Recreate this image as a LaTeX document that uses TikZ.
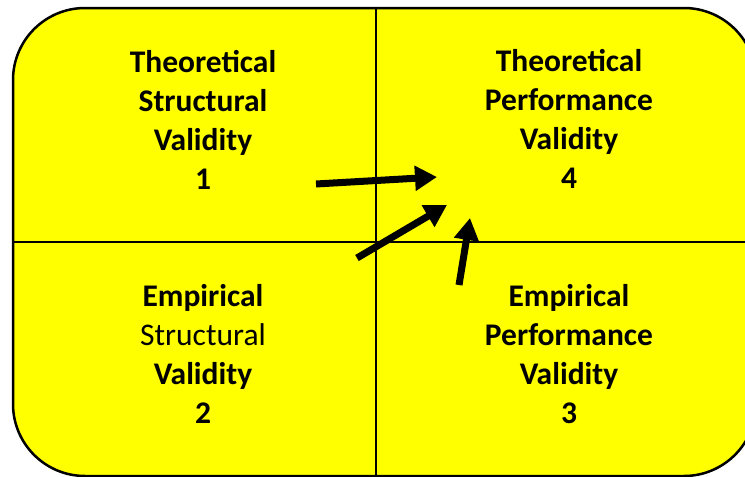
\documentclass[tikz,border=0pt]{standalone}
\usepackage{fontspec}
\setmainfont{Carlito}
\usetikzlibrary{arrows.meta}
\definecolor{quadyellow}{RGB}{255,255,0}
\tikzset{
  quadtext/.style={align=center, inner sep=0pt, font=\fontsize{31.5}{39}\selectfont\bfseries},
  bigarrow/.style={line width=7pt, -{Triangle[length=22pt,width=24pt]}},
  divider/.style={line width=1.2pt}
}
\begin{document}
\begin{tikzpicture}[x=1pt,y=-1pt]
\useasboundingbox (0,0) rectangle (745,477);
\begin{scope}
\clip (0,0) rectangle (745,477);
\draw[line width=2.5pt, fill=quadyellow, rounded corners=72pt] (13,8) rectangle (756,476);
\end{scope}
\coordinate (vtop) at (376,8);
\coordinate (vbot) at (376,476);
\coordinate (hl) at (13,242);
\coordinate (hr) at (745,242);
\draw[divider] (vtop) -- (vbot);
\draw[divider] (hl) -- (hr);
\node[quadtext] (q1) at (203,120) {Theoretical\\Structural\\Validity\\1};
\node[quadtext] (q4) at (569,119) {Theoretical\\Performance\\Validity\\4};
\node[quadtext] (q2) at (203,354) {Empirical\\\mdseries Structural\\Validity\\2};
\node[quadtext] (q3) at (569,354) {Empirical\\Performance\\Validity\\3};
\coordinate (a1s) at (316,184);
\coordinate (a1e) at (437,177);
\coordinate (a2s) at (357,258);
\coordinate (a2e) at (447,205);
\coordinate (a3s) at (459,285);
\coordinate (a3e) at (470,218);
\draw[bigarrow] (a1s) -- (a1e);
\draw[bigarrow] (a2s) -- (a2e);
\draw[bigarrow] (a3s) -- (a3e);
\end{tikzpicture}
\end{document}
